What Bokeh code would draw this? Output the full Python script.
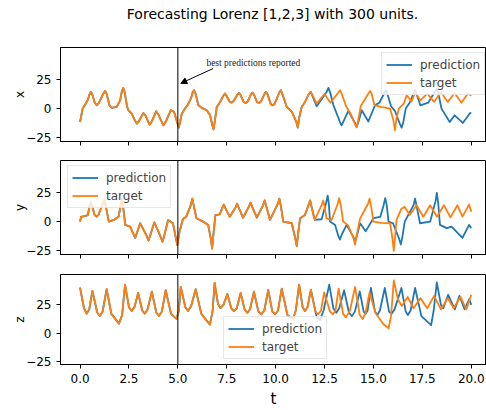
from bokeh.plotting import figure
from bokeh.layouts import column
from bokeh.models import (Range1d, FixedTicker, NumeralTickFormatter, Span,
                          Arrow, NormalHead, Label)
from bokeh.embed import file_html
from bokeh.resources import INLINE

title_text = "Forecasting Lorenz [1,2,3] with 300 units."
xticks = [0, 2.5, 5, 7.5, 10, 12.5, 15, 17.5, 20]
yticks = [-25, 0, 25]
ytick_labels = {-25: "\u221225", 0: "0", 25: "25"}
t_marker = 5.0

# ---- x component: target, and prediction after it leaves the target ----
tx = [0.00, 0.13, 0.25, 0.40, 0.48, 0.55, 0.63, 0.75, 0.85, 0.97,
      1.18, 1.28, 1.36, 1.50, 1.62, 1.88, 2.05, 2.14, 2.21, 2.28,
      2.40, 2.47, 2.64, 2.80, 2.90, 3.00, 3.24, 3.35, 3.55, 3.65,
      3.89, 4.00, 4.26, 4.37, 4.64, 4.81, 4.97, 5.05, 5.12, 5.20,
      5.37, 5.49, 5.68, 5.76, 5.83, 5.90, 6.05, 6.22, 6.48, 6.65,
      6.76, 6.82, 6.88, 6.99, 7.16, 7.33, 7.41, 7.50, 7.65, 7.75,
      7.85, 8.05, 8.13, 8.21, 8.37, 8.47, 8.57, 8.73, 8.81, 8.89,
      9.05, 9.15, 9.25, 9.43, 9.51, 9.59, 9.75, 9.85, 9.95, 10.18,
      10.26, 10.34, 10.57, 10.83, 11.05, 11.13, 11.20, 11.33, 11.50, 11.70,
      11.79, 11.87, 12.10, 12.50, 12.80, 13.20, 13.29, 13.37, 13.60, 13.85,
      14.05, 14.14, 14.22, 14.35, 14.75, 14.83, 14.91, 15.05, 15.40, 15.85,
      16.02, 16.10, 16.18, 16.30, 16.55, 16.70, 16.95, 17.13, 17.40, 17.75,
      18.10, 18.45, 18.80, 19.15, 19.50, 19.83, 20.00]
x_target = [-11.4, 0, 3, 7.5, 12, 14.2, 12, 5, 2.8, 5,
            12.5, 15, 12.5, 3, 0.6, 1.4, 7, 15, 17.6, 14,
            2, -1.4, -4.3, -10, -12.8, -11, -3.7, -6, -13.6, -11.5,
            -2.3, -5, -14.2, -11.5, -1.4, -2.8, -12, -16.2, -11, -4.3,
            0, 2.8, 9, 14, 15.6, 13, 2.8, 0.6, -1.4, -5.7,
            -14, -17.6, -12, 1.4, 5.7, 11, 12.8, 10.5, 5.8, 5.1,
            6.5, 12, 13.3, 11.5, 5.5, 4.8, 6, 12, 13.6, 12,
            5.5, 4.8, 6, 12.5, 14.2, 12, 3.8, 2.8, 4, 13.5,
            15.6, 12.5, 1.4, -2.8, -11, -16.2, -8, 1.4, 5.7, 12.5,
            14.2, 12, 4.3, 12.5, 5, 13.5, 15.6, 13, 2, -5,
            -13, -16, -10, 2, 13, 15, 12.5, 3, 1.5, 0,
            -10, -18.5, -8, 0, 4.3, 11.4, 6, 14, 7, 12.8,
            5.7, 14.2, 5.7, 13.3, 5, 12.8, 11]
x_split = 11.79
tx_pred = [12.10, 12.60, 12.70, 12.80, 12.95, 13.28, 13.37, 13.46, 13.72, 14.05,
           14.14, 14.22, 14.40, 14.74, 15.08, 15.30, 15.55, 15.64, 15.72, 15.90,
           16.10, 16.35, 16.44, 16.52, 16.65, 16.85, 17.05, 17.13, 17.21, 17.40,
           17.80, 18.15, 18.24, 18.32, 18.48, 18.90, 19.15, 19.57, 19.94, 20.00]
x_pred = [2, 14, 17.6, 13, 3, -11, -14.2, -11, -2, -12,
          -15.6, -12, -1.4, -11, 2.8, 5, 13, 15.6, 12, 2,
          -2, -13, -16.2, -12, 0, 5, 13, 15.6, 12, 2.8,
          5, 14.5, 17, 13, 0, -11.4, -5.7, -12.2, -3.7, -4]

# ---- y component ----
ty = [0.00, 0.05, 0.22, 0.40, 0.48, 0.55, 0.62, 0.75, 0.85, 0.95,
      1.15, 1.24, 1.32, 1.47, 1.72, 1.97, 2.08, 2.14, 2.20, 2.31,
      2.56, 2.74, 2.82, 2.90, 3.07, 3.40, 3.50, 3.58, 3.80, 4.12,
      4.21, 4.29, 4.50, 4.75, 4.90, 4.97, 5.09, 5.26, 5.43, 5.66,
      5.74, 5.82, 5.95, 6.29, 6.55, 6.70, 6.75, 6.80, 6.92, 7.14,
      7.27, 7.35, 7.43, 7.65, 7.95, 8.03, 8.11, 8.33, 8.64, 8.72,
      8.80, 9.04, 9.36, 9.44, 9.52, 9.71, 10.11, 10.19, 10.27, 10.39,
      10.82, 11.00, 11.08, 11.15, 11.25, 11.50, 11.68, 11.76, 11.84, 12.00,
      12.35, 12.43, 12.51, 12.60, 12.86, 13.17, 13.25, 13.33, 13.45, 13.70,
      13.98, 14.06, 14.14, 14.32, 14.72, 14.80, 14.88, 15.00, 15.40, 15.85,
      15.97, 16.04, 16.10, 16.18, 16.43, 16.60, 16.86, 17.20, 17.55, 17.90,
      18.25, 18.60, 18.94, 19.29, 19.55, 19.89, 20.00]
y_target = [0, 4, 4.7, 5.6, 13, 16.7, 13, 5.5, 4.2, 6,
            15, 18.6, 13, 0, 1.4, 4.2, 14, 19.5, 13, -2.8,
            -4.2, -11, -13.9, -10, -1.4, -12, -16.1, -12, -0.6, -13,
            -17.2, -13, 1.4, -1.4, -14, -20, -8.3, 2.2, 4.2, 14,
            19.5, 13, 2.8, 0, -2.8, -16, -23, -14, 5.6, 6.1,
            11.5, 14.5, 11.5, 4.2, 12, 15.3, 12, 3.3, 13, 16.1,
            12.5, 3.3, 14, 18, 13, 1.4, 15, 19.5, 13, 0,
            -1.4, -14, -20.8, -10, 2.8, 5.6, 14, 18, 12, 1.4,
            14, 18, 12, 2.8, 1.4, 15, 20, 14, 0, -3,
            -14, -19.5, -12, 2.8, 15, 19.5, 13, 0, -1, -1.4,
            -14, -25, -14, 1.4, 11, 12.5, 5.6, 13.9, 4.2, 13.9,
            4.2, 13.9, 3.6, 13.9, 4.2, 14.5, 8.3]
y_split = 11.76
ty_pred = [12.00, 12.35, 12.58, 12.66, 12.72, 12.78, 13.04, 13.20, 13.29, 13.38,
           13.63, 13.97, 14.06, 14.15, 14.32, 14.60, 15.00, 15.35, 15.52, 15.60,
           15.68, 15.77, 16.00, 16.30, 16.40, 16.48, 16.60, 17.05, 17.13, 17.21,
           17.38, 17.90, 18.17, 18.24, 18.31, 18.40, 18.75, 18.99, 19.55, 19.89,
           20.00]
y_pred = [1.4, 2, 16, 22, 15, 0, -2.8, -12, -15.3, -11,
          -2.8, -13, -17, -12, -1.4, -8.3, 2.8, 4.2, 14, 20,
          14, 0, -1.4, -14, -19.5, -13, 0, 14, 19.5, 13,
          -1.4, 0, 17, 24.5, 16, -2.8, -5.6, -4.2, -13.9, -2.8,
          -5.6]

# ---- z component ----
tz = [0.00, 0.20, 0.34, 0.47, 0.63, 0.88, 1.02, 1.15, 1.36, 1.60,
      1.99, 2.15, 2.30, 2.50, 2.64, 2.78, 2.97, 3.18, 3.31, 3.45,
      3.67, 3.90, 4.04, 4.18, 4.38, 4.65, 4.93, 5.05, 5.15, 5.38,
      5.52, 5.68, 5.91, 6.20, 6.64, 6.78, 6.88, 7.05, 7.18, 7.33,
      7.53, 7.73, 7.87, 8.01, 8.21, 8.41, 8.55, 8.69, 8.89, 9.12,
      9.27, 9.42, 9.62, 9.83, 9.97, 10.12, 10.31, 10.60, 10.89, 11.03,
      11.20, 11.38, 11.50, 11.63, 11.80, 12.03, 12.18, 12.32, 12.48, 12.78,
      12.93, 13.06, 13.22, 13.45, 13.59, 13.80, 14.06, 14.30, 14.45, 14.60,
      14.80, 15.10, 15.50, 15.77, 15.90, 16.04, 16.25, 16.45, 16.75, 17.05,
      17.40, 17.75, 18.10, 18.45, 18.80, 19.10, 19.45, 19.75, 20.00]
z_target = [40.3, 22, 17.2, 21, 37.5, 18, 15.3, 19, 38.9, 17,
            8.3, 16, 43, 23, 19.5, 23, 35.6, 20, 17.2, 21,
            36.7, 18, 15.3, 19, 38, 17, 12.5, 20, 41, 23,
            19.5, 24, 38.9, 17, 7.5, 20, 44.5, 26, 22.2, 25,
            34.7, 22, 19.5, 22, 35.6, 21, 18, 21, 36.7, 19,
            16.7, 20, 38.4, 19, 16.7, 20, 39.5, 16, 12.5, 20,
            43, 23, 19.5, 23, 38.4, 19, 16.7, 20, 36, 19,
            16.7, 20, 39.5, 17, 13.9, 20, 41, 16, 12.5, 18,
            36, 18, 8, 4.2, 15, 46.7, 30, 24, 32, 22,
            31, 22, 33, 21, 31, 22, 32, 21, 34]
z_split = 11.80
tz_pred = [12.10, 12.27, 12.45, 12.74, 12.95, 13.10, 13.25, 13.50, 13.75, 13.90,
           14.05, 14.30, 14.50, 14.60, 14.70, 14.87, 15.08, 15.20, 15.33, 15.58,
           15.80, 15.92, 16.08, 16.43, 16.65, 16.76, 16.90, 17.13, 17.45, 17.95,
           18.08, 18.24, 18.45, 18.57, 18.82, 19.16, 19.40, 19.66, 19.90, 20.00]
z_pred = [14, 11.7, 20, 43, 22, 18, 22, 38, 18, 15,
          19, 37, 19, 17, 20, 40, 19, 16, 20, 40,
          19, 17, 21, 40, 19, 16, 20, 40, 15, 7,
          20, 45, 25, 22, 34, 21, 33, 21, 30, 25]

BLUE = "#1f77b4"
ORANGE = "#ff7f0e"
FONT = "DejaVu Sans"
W = 486


def prediction(t, v, split, tp, vp):
    ts = [a for a in t if a <= split] + tp
    vs = [b for a, b in zip(t, v) if a <= split] + vp
    return ts, vs


x_range = Range1d(-1, 20.78)


def panel(height, top, bottom, ylabel, t, v, split, tp, vp, legend_loc, last=False):
    p = figure(width=W, height=height, x_range=x_range, y_range=Range1d(-28, 52),
               output_backend="svg", toolbar_location=None,
               min_border_left=60, min_border_right=0, min_border_top=top,
               min_border_bottom=bottom)
    p.background_fill_color = "white"
    p.border_fill_color = "white"
    p.outline_line_color = "black"
    p.outline_line_width = 1
    p.xgrid.visible = False
    p.ygrid.visible = False

    pt, pv = prediction(t, v, split, tp, vp)
    p.line(pt, pv, line_color=BLUE, line_width=1.8, line_join="round",
           legend_label="prediction")
    p.line(t, v, line_color=ORANGE, line_width=1.8, line_join="round",
           legend_label="target")

    p.add_layout(Span(location=t_marker, dimension="height", line_color="black", line_width=1))

    xa = p.xaxis[0]
    ya = p.yaxis[0]
    xa.ticker = FixedTicker(ticks=xticks)
    ya.ticker = FixedTicker(ticks=yticks)
    ya.major_label_overrides = ytick_labels
    for ax in (xa, ya):
        ax.major_tick_in = 0
        ax.major_tick_out = 4
        ax.minor_tick_line_color = None
        ax.axis_line_color = "black"
        ax.major_tick_line_color = "black"
        ax.major_label_text_font = FONT
        ax.major_label_text_font_size = "12px"
        ax.major_label_text_color = "black"
        ax.axis_label_text_font = FONT
        ax.axis_label_text_font_style = "normal"
        ax.axis_label_text_color = "black"
    ya.axis_label = ylabel
    ya.axis_label_text_font_size = "12px"
    ya.axis_label_standoff = -4
    ya.major_label_standoff = 5
    if last:
        xa.formatter = NumeralTickFormatter(format="0.0")
        xa.axis_label = "t"
        xa.axis_label_text_font_size = "15px"
        xa.axis_label_standoff = 4
        xa.major_label_standoff = 5
    else:
        # shared x axis: tick marks only, no tick labels
        xa.major_label_overrides = {tk: "" for tk in xticks}
        xa.major_label_text_font_size = "1px"
        xa.major_label_standoff = 0

    leg = p.legend[0]
    leg.location = legend_loc
    leg.label_text_font = FONT
    leg.label_text_font_size = "12px"
    leg.glyph_width = 26
    leg.glyph_height = 15
    leg.label_height = 15
    leg.label_standoff = 8
    leg.padding = 4
    leg.spacing = 3
    leg.margin = 0
    leg.border_line_color = "#d0d0d0"
    leg.background_fill_alpha = 0.8
    return p


# title strip: a bare figure whose frame holds only the title text
# (the column aligns its frame with the panels' frames, i.e. pixels 60..486)
head = figure(width=W, height=30, x_range=Range1d(60, W), y_range=Range1d(0, 30),
              output_backend="svg", toolbar_location=None, x_axis_type=None, y_axis_type=None,
              min_border_left=0, min_border_right=0, min_border_top=0, min_border_bottom=0)
head.outline_line_color = None
head.grid.visible = False
head.add_layout(Label(x=272, y=17, text=title_text, text_font=FONT, text_font_size="14px",
                      text_color="black", text_align="center", text_baseline="middle"))

p1 = panel(121, 17, 10, "x", tx, x_target, x_split, tx_pred, x_pred, (321, 46))
p2 = panel(113, 9, 10, "y", ty, y_target, y_split, ty_pred, y_pred, (7, 46))
p3 = panel(146, 10, 42, "z", tz, z_target, z_split, tz_pred, z_pred, (163, 5), last=True)

p1.add_layout(Arrow(end=NormalHead(size=6, fill_color="black", line_color="black"),
                    x_start=6.8, y_start=34.1, x_end=5.15, y_end=21.5,
                    line_color="black", line_width=1))
p1.add_layout(Label(x=8.86, y=38.4, text="best predictions reported",
                    text_font="Liberation Serif", text_font_size="9.5px",
                    text_color="#222222", text_align="center", text_baseline="middle"))

layout = column(head, p1, p2, p3, spacing=0)
open("out.html", "w").write(file_html(layout, INLINE))
